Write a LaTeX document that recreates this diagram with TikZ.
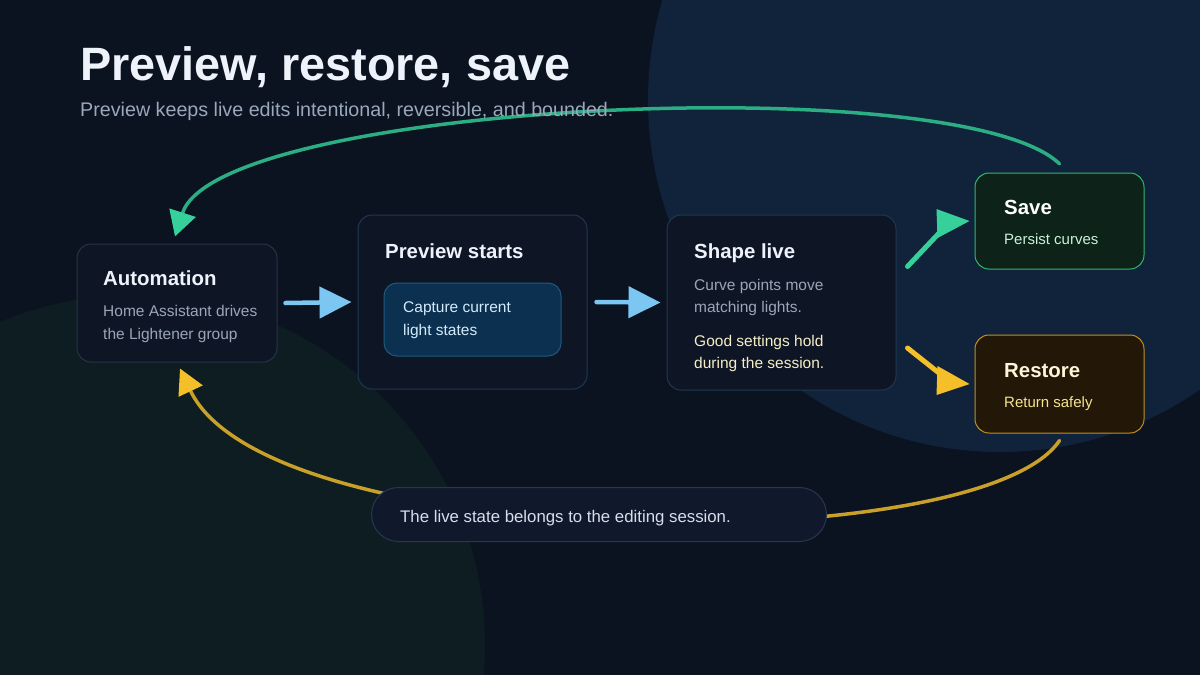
\documentclass[tikz,border=0pt]{standalone}
\usepackage{fontspec}
\setmainfont{Liberation Sans}
\usepackage{xcolor}
\usetikzlibrary{arrows.meta,calc,positioning}
\definecolor{bgnavy}{HTML}{0B1220}
\definecolor{glownavy}{HTML}{10233A}
\definecolor{glowteal}{HTML}{0D1D21}
\definecolor{cardfill}{HTML}{0E1626}
\definecolor{cardedge}{HTML}{283345}
\definecolor{stepedge}{HTML}{1E3850}
\definecolor{chipfill}{HTML}{0C3150}
\definecolor{chipedge}{HTML}{1F587E}
\definecolor{titlewhite}{HTML}{EEF2FA}
\definecolor{bodygray}{HTML}{9AA6B7}
\definecolor{subgray}{HTML}{9AA8BB}
\definecolor{chiptext}{HTML}{D4EAFA}
\definecolor{creamtext}{HTML}{F6EEC6}
\definecolor{savefill}{HTML}{0D2218}
\definecolor{saveedge}{HTML}{2FB96E}
\definecolor{savetext}{HTML}{C9F2D9}
\definecolor{restfill}{HTML}{231708}
\definecolor{restedge}{HTML}{C4901E}
\definecolor{resttitle}{HTML}{FFF4D8}
\definecolor{resttext}{HTML}{F7E48F}
\definecolor{pillfill}{HTML}{10192B}
\definecolor{pilledge}{HTML}{2A3650}
\definecolor{pilltext}{HTML}{D7DEEA}
\definecolor{flowblue}{HTML}{7CC7F2}
\definecolor{okgreen}{HTML}{36D19A}
\definecolor{okcurve}{HTML}{2BAE83}
\definecolor{restamber}{HTML}{F5BF2A}
\definecolor{restcurve}{HTML}{C9A028}
\tikzset{
  card/.style={draw=cardedge, fill=cardfill, rounded corners=14pt, line width=1pt, inner sep=0pt},
  chip/.style={draw=chipedge, fill=chipfill, rounded corners=13pt, line width=1pt, inner sep=0pt},
  pill/.style={draw=pilledge, fill=pillfill, rounded corners=27pt, line width=1pt, inner sep=0pt},
  headline/.style={anchor=base west, inner sep=0pt, text=titlewhite, font=\fontsize{46.8}{50}\selectfont\bfseries},
  subline/.style={anchor=base west, inner sep=0pt, text=subgray, font=\fontsize{19.7}{24}\selectfont},
  cardtitle/.style={anchor=base west, inner sep=0pt, text=titlewhite, font=\fontsize{20.4}{24}\selectfont\bfseries},
  cardbody/.style={anchor=base west, inner sep=0pt, align=left, text=bodygray, font=\fontsize{15.5}{23}\selectfont},
  flow/.style={draw=flowblue, line width=4.5pt, line cap=round, -{Triangle[length=32pt,width=31pt]}},
  every picture/.style={line join=round}
}

\begin{document}
\begin{tikzpicture}[x=1pt,y=-1pt]
  \fill[bgnavy] (0,0) rectangle (1200,675);
  \useasboundingbox (0,0) rectangle (1200,675);
  \begin{scope}
    \clip (0,0) rectangle (1200,675);
    \fill[glownavy] (1000,100) circle[radius=352pt];
    \fill[glowteal] (135,645) circle[radius=350pt];
  \end{scope}

  % cards
  \node[card, minimum width=200pt, minimum height=118pt] (auto) at (177,303) {};
  \node[card, draw=stepedge, minimum width=229pt, minimum height=174pt] (prev) at (472.5,302) {};
  \node[chip, minimum width=177pt, minimum height=73pt] (capture) at (472.5,319.5) {};
  \node[card, draw=stepedge, minimum width=229pt, minimum height=175pt] (shape) at (781.5,302.5) {};
  \node[card, draw=saveedge, fill=savefill, minimum width=169pt, minimum height=96pt] (save) at (1059.5,221) {};
  \node[card, draw=restedge, fill=restfill, minimum width=169pt, minimum height=98pt] (restore) at (1059.5,384) {};

  % loops back to the automation
  \draw[okcurve, line width=3.5pt, line cap=round, -{Triangle[length=25pt,width=27pt,color=okgreen]}]
    ([yshift=8.7pt]save.north) .. controls (960,68) and (218,102) .. ([shift={(-2pt,7pt)}]auto.north);
  \draw[restcurve, line width=3.5pt, line cap=round, -{Triangle[length=25pt,width=26pt,color=restamber]}]
    ([yshift=-7pt]restore.south) .. controls (980,560) and (268,555) .. ([shift={(3pt,-6pt)}]auto.south);
  \node[pill, minimum width=455pt, minimum height=54pt] (note) at (599,514.5) {};

  % texts
  \node[headline] (title) at (80,80) {Preview, restore, save};
  \node[subline] (sub) at (80,116.5) {Preview keeps live edits intentional, reversible, and bounded.};
  \node[cardtitle] (autot) at (103,285.7) {Automation};
  \node[cardbody] (autob) at (103,339) {Home Assistant drives\\the Lightener group};
  \node[cardtitle] (prevt) at (385,258.3) {Preview starts};
  \node[cardbody, text=chiptext] (capt) at (403,335.7) {Capture current\\light states};
  \node[cardtitle] (shapet) at (694,258) {Shape live};
  \node[cardbody, font=\fontsize{15.5}{22}\selectfont] (shapeb) at (694,312.7) {Curve points move\\matching lights.};
  \node[cardbody, text=creamtext, font=\fontsize{15.5}{21.5}\selectfont] (shapec) at (694,368.2) {Good settings hold\\during the session.};
  \node[cardtitle, text=white] (savet) at (1004,214.3) {Save};
  \node[cardbody, text=savetext, font=\fontsize{15}{20}\selectfont] (saveb) at (1004,244) {Persist curves};
  \node[cardtitle, text=resttitle] (restt) at (1004,377.3) {Restore};
  \node[cardbody, text=resttext, font=\fontsize{15}{20}\selectfont] (restb) at (1004,407.3) {Return safely};
  \node[cardbody, text=pilltext, font=\fontsize{16.8}{20}\selectfont] (notet) at (400,522.7) {The live state belongs to the editing session.};

  % flow arrows
  \draw[flow] ([xshift=8pt]auto.east) -- ([xshift=-6pt]prev.west);
  \draw[flow] ([xshift=9pt]prev.east) -- ([xshift=-6pt]shape.west);
  \coordinate (savetip) at ([xshift=-5pt]save.west);
  \coordinate (resttip) at ([xshift=-5pt]restore.west);
  \draw[okgreen, line width=5pt, line cap=round] ([shift={(11pt,-52pt)}]shape.north east) -- (942,230);
  \fill[okgreen] (savetip) -- ++(-33,-12) -- ++(1,29) -- cycle;
  \draw[restamber, line width=5pt, line cap=round] ([shift={(11pt,-45.5pt)}]shape.east) -- (944,377);
  \fill[restamber] (resttip) -- ++(-32,-18) -- ++(-1,29) -- cycle;
\end{tikzpicture}
\end{document}
